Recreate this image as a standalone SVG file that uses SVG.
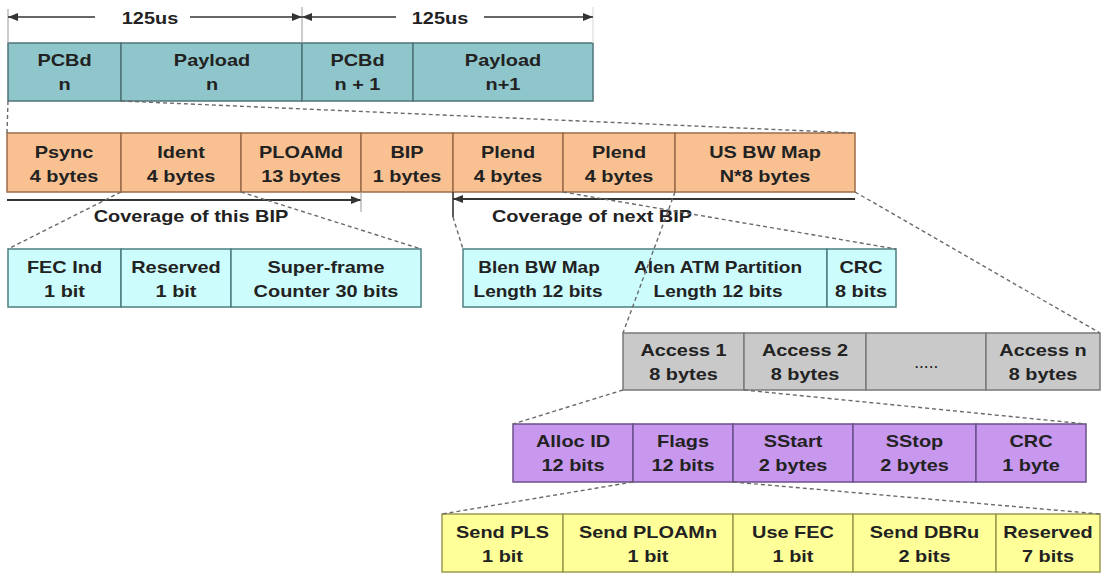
<svg xmlns="http://www.w3.org/2000/svg" width="1102" height="574" viewBox="0 0 1102 574">
<style>
.t{font-family:"Liberation Sans",Arial,sans-serif;font-weight:bold;font-size:17px;fill:#222;text-anchor:middle}
.teal{fill:#8FC6CB;stroke:#4f7478;stroke-width:1.5}
.org{fill:#F9C191;stroke:#9a6c4a;stroke-width:1.5}
.cyan{fill:#CCFCFC;stroke:#4d7f80;stroke-width:1.5}
.gray{fill:#C9C9C9;stroke:#7a7a7a;stroke-width:1.5}
.pur{fill:#C898EE;stroke:#6b4f8c;stroke-width:1.5}
.yel{fill:#FFFF99;stroke:#9b9b4f;stroke-width:1.5}
.dash{fill:none;stroke:#6a6a6a;stroke-width:1.4;stroke-dasharray:4 3}
.arr{fill:none;stroke:#333;stroke-width:1.6}
.cov{fill:none;stroke:#333;stroke-width:2}
.tick{fill:none;stroke:#aaa;stroke-width:1.2}
</style>
<defs>
<marker id="ah" viewBox="0 0 10 8" refX="10" refY="4" markerWidth="10" markerHeight="8" markerUnits="userSpaceOnUse" orient="auto-start-reverse"><path d="M0,0 L10,4 L0,8 z" fill="#333"/></marker>
</defs>
<rect width="1102" height="574" fill="#fff"/>

<!-- top row -->
<g id="pcbd-n"><rect class="teal" x="8" y="43" width="113" height="58"/><text class="t" transform="translate(64.5 0) scale(1.17 1)" y="66">PCBd</text><text class="t" transform="translate(64.5 0) scale(1.17 1)" y="90">n</text></g>
<g id="payload-n"><rect class="teal" x="121" y="43" width="181" height="58"/><text class="t" transform="translate(212 0) scale(1.17 1)" y="66">Payload</text><text class="t" transform="translate(212 0) scale(1.17 1)" y="90">n</text></g>
<g id="pcbd-n1"><rect class="teal" x="302" y="43" width="111" height="58"/><text class="t" transform="translate(357.5 0) scale(1.17 1)" y="66">PCBd</text><text class="t" transform="translate(357.5 0) scale(1.17 1)" y="90">n + 1</text></g>
<g id="payload-n1"><rect class="teal" x="413" y="43" width="180" height="58"/><text class="t" transform="translate(503 0) scale(1.17 1)" y="66">Payload</text><text class="t" transform="translate(503 0) scale(1.17 1)" y="90">n+1</text></g>

<!-- orange row -->
<g id="psync"><rect class="org" x="7" y="133" width="114" height="59"/><text class="t" transform="translate(64 0) scale(1.17 1)" y="158">Psync</text><text class="t" transform="translate(64 0) scale(1.17 1)" y="182">4 bytes</text></g>
<g id="ident"><rect class="org" x="121" y="133" width="120" height="59"/><text class="t" transform="translate(181 0) scale(1.17 1)" y="158">Ident</text><text class="t" transform="translate(181 0) scale(1.17 1)" y="182">4 bytes</text></g>
<g id="ploamd"><rect class="org" x="241" y="133" width="120" height="59"/><text class="t" transform="translate(301 0) scale(1.17 1)" y="158">PLOAMd</text><text class="t" transform="translate(301 0) scale(1.17 1)" y="182">13 bytes</text></g>
<g id="bip"><rect class="org" x="361" y="133" width="92" height="59"/><text class="t" transform="translate(407 0) scale(1.17 1)" y="158">BIP</text><text class="t" transform="translate(407 0) scale(1.17 1)" y="182">1 bytes</text></g>
<g id="plend1"><rect class="org" x="453" y="133" width="110" height="59"/><text class="t" transform="translate(508 0) scale(1.17 1)" y="158">Plend</text><text class="t" transform="translate(508 0) scale(1.17 1)" y="182">4 bytes</text></g>
<g id="plend2"><rect class="org" x="563" y="133" width="112" height="59"/><text class="t" transform="translate(619 0) scale(1.17 1)" y="158">Plend</text><text class="t" transform="translate(619 0) scale(1.17 1)" y="182">4 bytes</text></g>
<g id="usbwmap"><rect class="org" x="675" y="133" width="180" height="59"/><text class="t" transform="translate(765 0) scale(1.17 1)" y="158">US BW Map</text><text class="t" transform="translate(765 0) scale(1.17 1)" y="182">N*8 bytes</text></g>

<!-- cyan left row -->
<g id="fecind"><rect class="cyan" x="8" y="249" width="113" height="58"/><text class="t" transform="translate(64.5 0) scale(1.17 1)" y="273">FEC Ind</text><text class="t" transform="translate(64.5 0) scale(1.17 1)" y="297">1 bit</text></g>
<g id="reserved1"><rect class="cyan" x="121" y="249" width="110" height="58"/><text class="t" transform="translate(176 0) scale(1.17 1)" y="273">Reserved</text><text class="t" transform="translate(176 0) scale(1.17 1)" y="297">1 bit</text></g>
<g id="superframe"><rect class="cyan" x="231" y="249" width="190" height="58"/><text class="t" transform="translate(326 0) scale(1.17 1)" y="273">Super-frame</text><text class="t" transform="translate(326 0) scale(1.17 1)" y="297">Counter 30 bits</text></g>

<!-- cyan right row -->
<g id="lengths"><rect class="cyan" x="463" y="249" width="364" height="58"/><text class="t" transform="translate(539 0) scale(1.12 1)" y="273">Blen BW Map</text><text class="t" transform="translate(538 0) scale(1.12 1)" y="297">Length 12 bits</text><text class="t" transform="translate(718 0) scale(1.12 1)" y="273">Alen ATM Partition</text><text class="t" transform="translate(718 0) scale(1.12 1)" y="297">Length 12 bits</text></g>
<g id="crc8"><rect class="cyan" x="827" y="249" width="69" height="58"/><text class="t" transform="translate(861 0) scale(1.17 1)" y="273">CRC</text><text class="t" transform="translate(861 0) scale(1.17 1)" y="297">8 bits</text></g>

<!-- gray row -->
<g id="access1"><rect class="gray" x="623" y="333" width="121" height="57"/><text class="t" transform="translate(683.5 0) scale(1.17 1)" y="356">Access 1</text><text class="t" transform="translate(683.5 0) scale(1.17 1)" y="380">8 bytes</text></g>
<g id="access2"><rect class="gray" x="744" y="333" width="122" height="57"/><text class="t" transform="translate(805 0) scale(1.17 1)" y="356">Access 2</text><text class="t" transform="translate(805 0) scale(1.17 1)" y="380">8 bytes</text></g>
<g id="accessdots"><rect class="gray" x="866" y="333" width="120" height="57"/><text class="t" style="font-size:12px;letter-spacing:1.5px" x="927" y="368">.....</text></g>
<g id="accessn"><rect class="gray" x="986" y="333" width="114" height="57"/><text class="t" transform="translate(1043 0) scale(1.17 1)" y="356">Access n</text><text class="t" transform="translate(1043 0) scale(1.17 1)" y="380">8 bytes</text></g>

<!-- purple row -->
<g id="allocid"><rect class="pur" x="513" y="424" width="120" height="58"/><text class="t" transform="translate(573 0) scale(1.17 1)" y="447">Alloc ID</text><text class="t" transform="translate(573 0) scale(1.17 1)" y="471">12 bits</text></g>
<g id="flags"><rect class="pur" x="633" y="424" width="100" height="58"/><text class="t" transform="translate(683 0) scale(1.17 1)" y="447">Flags</text><text class="t" transform="translate(683 0) scale(1.17 1)" y="471">12 bits</text></g>
<g id="sstart"><rect class="pur" x="733" y="424" width="120" height="58"/><text class="t" transform="translate(793 0) scale(1.17 1)" y="447">SStart</text><text class="t" transform="translate(793 0) scale(1.17 1)" y="471">2 bytes</text></g>
<g id="sstop"><rect class="pur" x="853" y="424" width="123" height="58"/><text class="t" transform="translate(914.5 0) scale(1.17 1)" y="447">SStop</text><text class="t" transform="translate(914.5 0) scale(1.17 1)" y="471">2 bytes</text></g>
<g id="crc1"><rect class="pur" x="976" y="424" width="110" height="58"/><text class="t" transform="translate(1031 0) scale(1.17 1)" y="447">CRC</text><text class="t" transform="translate(1031 0) scale(1.17 1)" y="471">1 byte</text></g>

<!-- yellow row -->
<g id="sendpls"><rect class="yel" x="442" y="514" width="121" height="58"/><text class="t" transform="translate(502.5 0) scale(1.17 1)" y="538">Send PLS</text><text class="t" transform="translate(502.5 0) scale(1.17 1)" y="562">1 bit</text></g>
<g id="sendploamn"><rect class="yel" x="563" y="514" width="170" height="58"/><text class="t" transform="translate(648 0) scale(1.17 1)" y="538">Send PLOAMn</text><text class="t" transform="translate(648 0) scale(1.17 1)" y="562">1 bit</text></g>
<g id="usefec"><rect class="yel" x="733" y="514" width="120" height="58"/><text class="t" transform="translate(793 0) scale(1.17 1)" y="538">Use FEC</text><text class="t" transform="translate(793 0) scale(1.17 1)" y="562">1 bit</text></g>
<g id="senddbru"><rect class="yel" x="853" y="514" width="143" height="58"/><text class="t" transform="translate(924.5 0) scale(1.17 1)" y="538">Send DBRu</text><text class="t" transform="translate(924.5 0) scale(1.17 1)" y="562">2 bits</text></g>
<g id="reserved7"><rect class="yel" x="996" y="514" width="104" height="58"/><text class="t" transform="translate(1048 0) scale(1.17 1)" y="538">Reserved</text><text class="t" transform="translate(1048 0) scale(1.17 1)" y="562">7 bits</text></g>

<!-- connectors -->
<g id="connectors">
<line class="tick" x1="8" y1="9" x2="8" y2="43"/>
<line class="tick" x1="302" y1="7" x2="302" y2="43"/>
<line class="tick" x1="593" y1="7" x2="593" y2="43" style="stroke:#ddd"/>
<line class="arr" x1="8" y1="17" x2="95" y2="17" marker-start="url(#ah)"/>
<line class="arr" x1="190" y1="17" x2="302" y2="17" marker-end="url(#ah)"/>
<line class="arr" x1="302" y1="17" x2="396" y2="17" marker-start="url(#ah)"/>
<line class="arr" x1="484" y1="17" x2="593" y2="17" marker-end="url(#ah)"/>
<text class="t" transform="translate(150 0) scale(1.17 1)" y="24">125us</text>
<text class="t" transform="translate(440 0) scale(1.17 1)" y="24">125us</text>

<line class="cov" x1="7" y1="200" x2="361" y2="200" marker-end="url(#ah)"/>
<line class="tick" x1="361" y1="192" x2="361" y2="212"/>
<line class="cov" x1="855" y1="199" x2="453" y2="199" marker-end="url(#ah)"/>
<line class="arr" x1="453" y1="192" x2="453" y2="217"/>
<text class="t" transform="translate(191 0) scale(1.17 1)" y="222">Coverage of this BIP</text>
<text class="t" transform="translate(592 0) scale(1.17 1)" y="222">Coverage of next BIP</text>

<line class="dash" x1="8" y1="101" x2="7" y2="133"/>
<line class="dash" x1="121" y1="101" x2="855" y2="133"/>
<line class="dash" x1="121" y1="192" x2="8" y2="249"/>
<line class="dash" x1="241" y1="192" x2="421" y2="249"/>
<line class="dash" x1="453" y1="217" x2="463" y2="249"/>
<line class="dash" x1="563" y1="192" x2="896" y2="249"/>
<line class="dash" x1="675" y1="192" x2="623" y2="333"/>
<line class="dash" x1="855" y1="192" x2="1100" y2="333"/>
<line class="dash" x1="623" y1="390" x2="513" y2="424"/>
<line class="dash" x1="744" y1="390" x2="1086" y2="424"/>
<line class="dash" x1="633" y1="482" x2="442" y2="514"/>
<line class="dash" x1="733" y1="482" x2="1100" y2="514"/>
</g>
</svg>
